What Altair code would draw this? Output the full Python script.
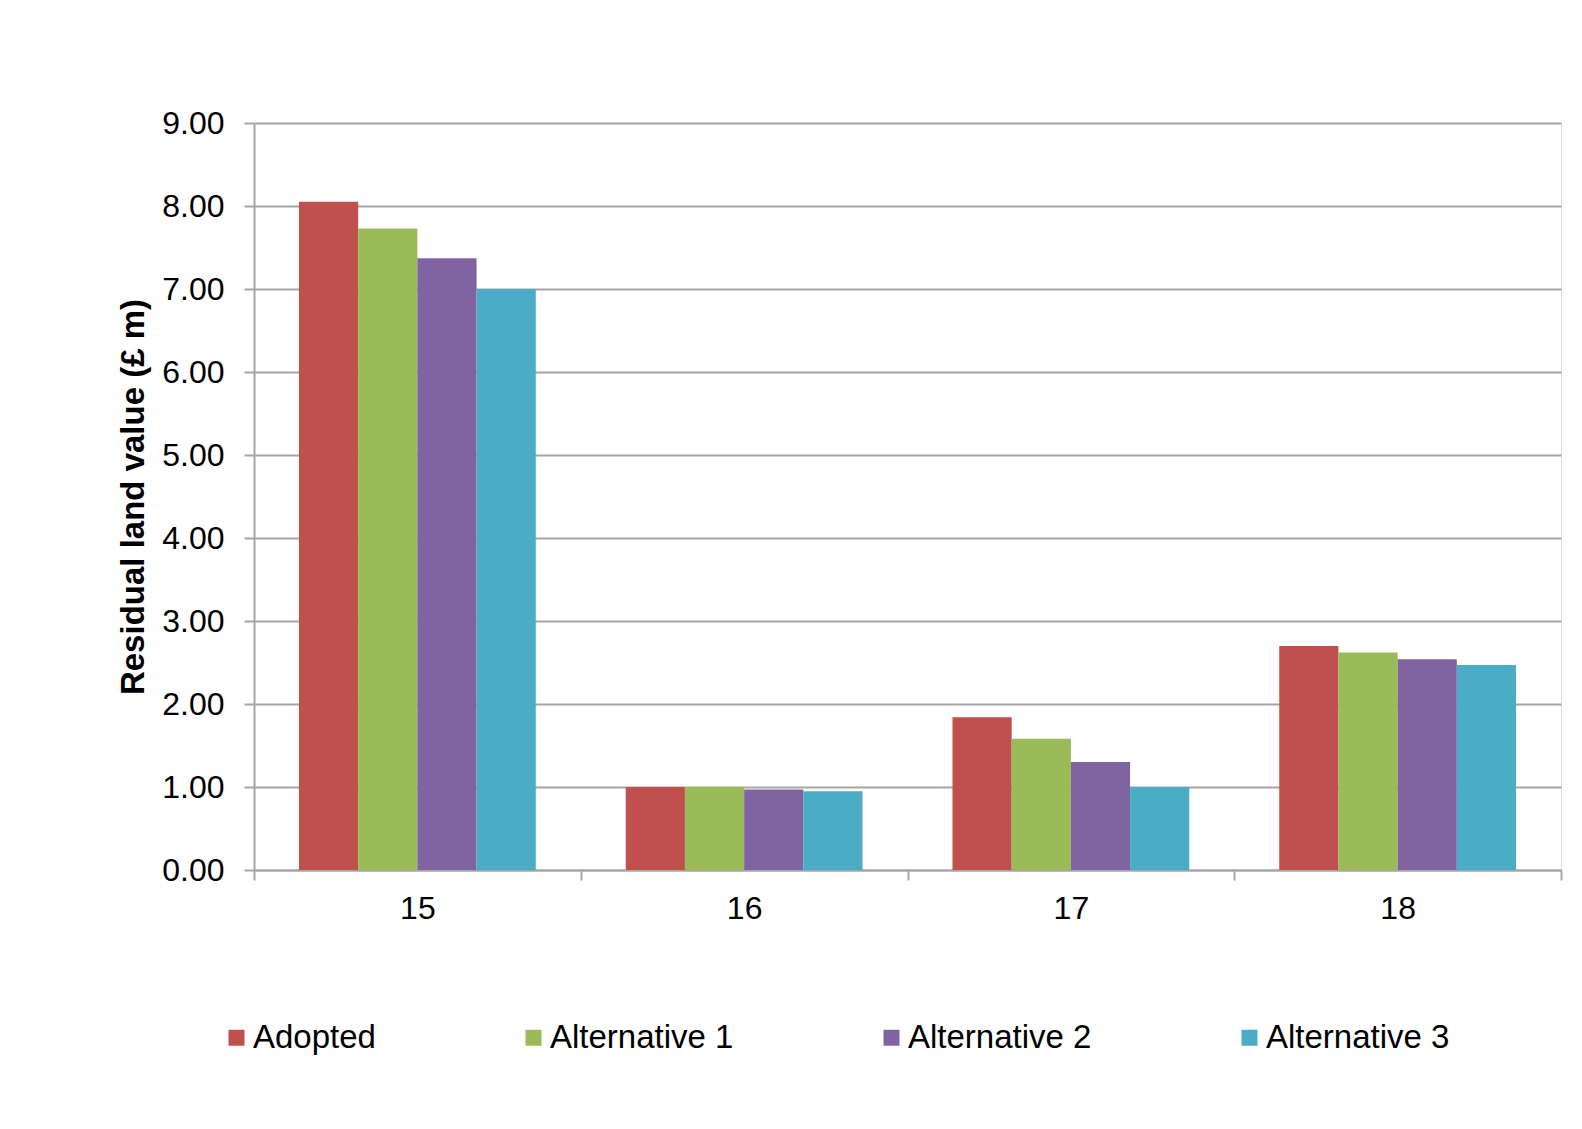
import altair as alt
import pandas as pd

sites = ["15", "16", "17", "18"]
series = ["Adopted", "Alternative 1", "Alternative 2", "Alternative 3"]
adopted = [8.05, 1.00, 1.84, 2.70]
alt1 = [7.73, 1.00, 1.58, 2.62]
alt2 = [7.37, 0.97, 1.30, 2.54]
alt3 = [7.00, 0.95, 1.00, 2.47]
colors = ["#C0504D", "#9BBB59", "#8064A2", "#4BACC6"]
y_ticks = [0, 1, 2, 3, 4, 5, 6, 7, 8, 9]

rows = []
for name, vals in zip(series, [adopted, alt1, alt2, alt3]):
    for s, v in zip(sites, vals):
        rows.append({"site": s, "series": name, "value": v})
df = pd.DataFrame(rows)

FONT = "Liberation Sans"
GRID = "#a6a6a6"

chart = alt.Chart(df).mark_bar().encode(
    x=alt.X("site:N", sort=sites,
            scale=alt.Scale(paddingInner=0, paddingOuter=0),
            axis=alt.Axis(title=None, labelAngle=0, tickBand="extent",
                          tickSize=10, tickColor=GRID, tickWidth=2,
                          domainColor=GRID, domainWidth=2,
                          labelFont=FONT, labelFontSize=32, labelColor="#000000",
                          labelPadding=13)),
    xOffset=alt.XOffset("series:N", sort=series,
                        scale=alt.Scale(paddingInner=0, paddingOuter=0.76)),
    y=alt.Y("value:Q",
            scale=alt.Scale(domain=[0, 9], nice=False),
            axis=alt.Axis(title="Residual land value (£ m)", values=y_ticks,
                          format=".2f", tickSize=10, tickColor=GRID, tickWidth=2,
                          domainColor=GRID, domainWidth=2,
                          gridColor=GRID, gridWidth=2,
                          labelFont=FONT, labelFontSize=32, labelColor="#000000",
                          labelPadding=20,
                          titleFont=FONT, titleFontSize=33, titleFontWeight="bold",
                          titleColor="#000000", titlePadding=11)),
    color=alt.Color("series:N", sort=series,
                    scale=alt.Scale(domain=series, range=colors),
                    legend=alt.Legend(title=None, orient="none", direction="horizontal",
                                      legendX=-34, legendY=898, padding=0,
                                      symbolType="square", symbolSize=256,
                                      symbolStrokeWidth=0, symbolOpacity=1,
                                      labelFont=FONT, labelFontSize=33,
                                      labelColor="#000000", labelOffset=0,
                                      labelLimit=1000,
                                      columnPadding=141)),
).properties(
    width=1307,
    height=747,
    autosize=alt.AutoSizeParams(type="none"),
    padding={"left": 246, "top": 115, "right": 10, "bottom": 220},
).configure_view(stroke=None).configure(background="white")

chart.save("out.html", embed_options={"renderer": "svg", "actions": False})
